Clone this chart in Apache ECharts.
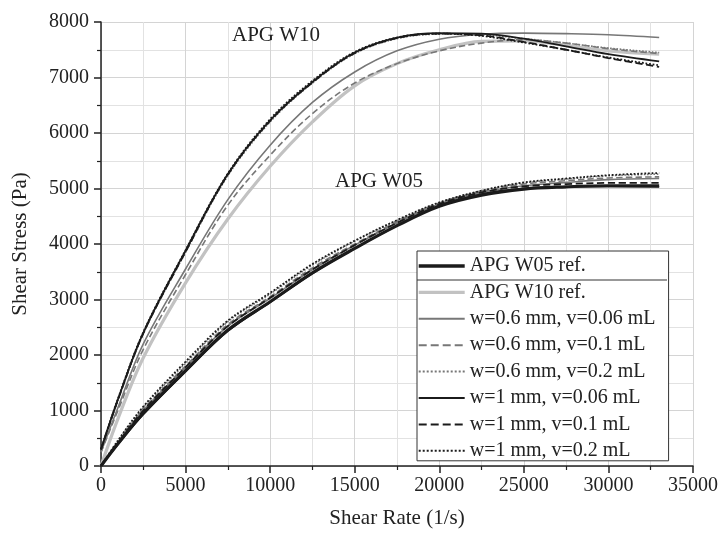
<!DOCTYPE html>
<html>
<head>
<meta charset="UTF-8">
<title>Shear Stress vs Shear Rate</title>
<script src="https://cdn.jsdelivr.net/npm/echarts@6/dist/echarts.min.js"></script>
<style>
    html, body { margin: 0; padding: 0; background: #fff; }
    #main { width: 723px; height: 535px; }
</style>
</head>
<body>
<div id="main"></div>
<script>
    // shear rate (1/s), shared by every curve
    var shearRate = [0, 1000, 2500, 5000, 7500, 10000, 12500, 15000, 17500, 20000, 22500, 25000, 27500, 30000, 33000]

    // APG W10 family (Pa)
    var w10Ref     = [0, 850, 1950, 3300, 4450, 5400, 6200, 6850, 7250, 7500, 7650, 7660, 7580, 7480, 7420]
    var w10_06_006 = [250, 1050, 2200, 3550, 4800, 5780, 6550, 7100, 7480, 7690, 7780, 7800, 7790, 7770, 7720]
    var w10_06_01  = [250, 1000, 2100, 3450, 4700, 5600, 6350, 6900, 7250, 7480, 7620, 7680, 7620, 7520, 7430]
    var w10_06_02  = [300, 1180, 2380, 3850, 5230, 6200, 6900, 7430, 7700, 7780, 7770, 7700, 7620, 7530, 7450]
    var w10_1_006  = [300, 1200, 2400, 3880, 5260, 6230, 6920, 7450, 7720, 7800, 7790, 7700, 7560, 7420, 7290]
    var w10_1_01   = [300, 1190, 2390, 3860, 5250, 6220, 6910, 7440, 7710, 7790, 7760, 7640, 7500, 7350, 7190]
    var w10_1_02   = [300, 1210, 2410, 3890, 5270, 6250, 6940, 7460, 7720, 7790, 7750, 7630, 7500, 7360, 7220]

    // APG W05 family (Pa)
    var w05Ref     = [0, 400, 950, 1720, 2450, 2960, 3480, 3920, 4330, 4680, 4880, 4990, 5030, 5050, 5050]
    var w05_06_006 = [0, 420, 1000, 1780, 2520, 3020, 3540, 3980, 4380, 4720, 4930, 5050, 5110, 5160, 5180]
    var w05_06_01  = [0, 430, 1020, 1800, 2550, 3050, 3570, 4000, 4400, 4740, 4950, 5080, 5140, 5190, 5210]
    var w05_06_02  = [0, 450, 1050, 1850, 2600, 3100, 3620, 4050, 4420, 4740, 4960, 5100, 5170, 5230, 5260]
    var w05_1_006  = [0, 390, 930, 1700, 2430, 2950, 3470, 3920, 4330, 4690, 4900, 5000, 5030, 5040, 5030]
    var w05_1_01   = [0, 420, 1000, 1780, 2520, 3030, 3540, 3980, 4380, 4720, 4930, 5040, 5080, 5100, 5100]
    var w05_1_02   = [0, 460, 1070, 1880, 2620, 3120, 3640, 4060, 4430, 4750, 4960, 5110, 5180, 5240, 5280]

    var xTicks = [0, 5000, 10000, 15000, 20000, 25000, 30000, 35000]
    var yTicks = [0, 1000, 2000, 3000, 4000, 5000, 6000, 7000, 8000]

    var legendNames = ['APG W05 ref.', 'APG W10 ref.', 'w=0.6 mm, v=0.06 mL', 'w=0.6 mm, v=0.1 mL',
        'w=0.6 mm, v=0.2 mL', 'w=1 mm, v=0.06 mL', 'w=1 mm, v=0.1 mL', 'w=1 mm, v=0.2 mL']

    var FONT = '"Liberation Serif", "DejaVu Serif", serif'
    var BLACK = '#1b1b1b', GRAY = '#777777', LIGHT = '#c2c2c2'

    function pairs(ys) {
        var out = []
        for (var i = 0; i < shearRate.length; i++) out.push([shearRate[i], ys[i]])
        return out
    }

    function curve(name, ys, color, width, type, z) {
        return {
            name: name, type: 'line', data: pairs(ys), smooth: 0.35,
            showSymbol: false, symbol: 'none', z: z || 2,
            lineStyle: {color: color, width: width, type: type},
            itemStyle: {color: color}
        }
    }

    var series = [
        curve(legendNames[0], w05Ref, BLACK, 3.2, 'solid', 3),
        curve(legendNames[1], w10Ref, LIGHT, 3.2, 'solid', 1),
        curve(legendNames[2], w10_06_006, GRAY, 1.6, 'solid'),
        curve(legendNames[3], w10_06_01, GRAY, 1.6, 'dashed'),
        curve(legendNames[4], w10_06_02, GRAY, 1.6, 'dotted'),
        curve(legendNames[5], w10_1_006, BLACK, 1.8, 'solid'),
        curve(legendNames[6], w10_1_01, BLACK, 1.8, 'dashed'),
        curve(legendNames[7], w10_1_02, BLACK, 1.8, 'dotted'),
        curve(legendNames[2], w05_06_006, GRAY, 1.6, 'solid'),
        curve(legendNames[3], w05_06_01, GRAY, 1.6, 'dashed'),
        curve(legendNames[4], w05_06_02, GRAY, 1.6, 'dotted'),
        curve(legendNames[5], w05_1_006, BLACK, 1.8, 'solid'),
        curve(legendNames[6], w05_1_01, BLACK, 1.8, 'dashed'),
        curve(legendNames[7], w05_1_02, BLACK, 1.8, 'dotted')
    ]

    // the two reference curves get a heavier sample line in the legend
    var legendData = legendNames.map(function (n, i) {
        if (i < 2) return {name: n, lineStyle: {width: 3.4}}
        return {name: n}
    })

    var chart = echarts.init(document.getElementById('main'), null, {renderer: 'canvas'})
    var option = {
        animation: false,
        backgroundColor: '#fff',
        textStyle: {fontFamily: FONT},
        grid: {left: 101, right: 30, top: 22, bottom: 69, containLabel: false},
        legend: {
            data: legendData,
            orient: 'vertical',
            left: 417, top: 251,
            padding: [5, 13, 0, 0],
            itemWidth: 46, itemHeight: 18, itemGap: 6.4,
            itemStyle: {opacity: 0},
            backgroundColor: '#fff',
            borderColor: '#333', borderWidth: 1,
            textStyle: {fontFamily: FONT, fontSize: 20, lineHeight: 20, color: '#222'},
            selectedMode: false
        },
        xAxis: {
            type: 'value', min: 0, max: 35000, interval: 5000,
            name: 'Shear Rate (1/s)', nameLocation: 'middle', nameGap: 42,
            nameTextStyle: {fontFamily: FONT, fontSize: 21, color: '#222'},
            axisLine: {show: true, onZero: false, lineStyle: {color: '#222', width: 1.5}},
            axisTick: {show: true, inside: false, length: 7, lineStyle: {color: '#222', width: 1.5}},
            minorTick: {show: true, splitNumber: 2, length: 4, lineStyle: {color: '#222', width: 1.2}},
            axisLabel: {fontFamily: FONT, fontSize: 20, color: '#222', margin: 10,
                formatter: function (v) { return xTicks.indexOf(v) >= 0 ? String(v) : '' }},
            splitLine: {show: true, lineStyle: {color: '#d4d4d4', width: 1}},
            minorSplitLine: {show: true, lineStyle: {color: '#e2e2e2', width: 1}}
        },
        yAxis: {
            type: 'value', min: 0, max: 8000, interval: 1000,
            name: 'Shear Stress (Pa)', nameLocation: 'middle', nameGap: 70,
            nameTextStyle: {fontFamily: FONT, fontSize: 21, color: '#222'},
            axisLine: {show: true, onZero: false, lineStyle: {color: '#222', width: 1.5}},
            axisTick: {show: true, inside: false, length: 7, lineStyle: {color: '#222', width: 1.5}},
            minorTick: {show: true, splitNumber: 2, length: 4, lineStyle: {color: '#222', width: 1.2}},
            axisLabel: {fontFamily: FONT, fontSize: 20, color: '#222', margin: 12,
                formatter: function (v) { return yTicks.indexOf(v) >= 0 ? String(v) : '' }},
            splitLine: {show: true, lineStyle: {color: '#d4d4d4', width: 1}},
            minorSplitLine: {show: true, lineStyle: {color: '#e2e2e2', width: 1}}
        },
        graphic: [
            {type: 'text', left: 232, top: 25, z: 10,
                style: {text: 'APG W10', font: '21px ' + FONT, fill: '#222'}},
            {type: 'text', left: 335, top: 171, z: 10,
                style: {text: 'APG W05', font: '21px ' + FONT, fill: '#222'}},
            // separator under the first legend row
            {type: 'line', z: 100,
                shape: {x1: 417, y1: 280, x2: 667, y2: 280},
                style: {stroke: '#333', lineWidth: 1}}
        ],
        series: series
    }
    chart.setOption(option)
</script>
</body>
</html>
